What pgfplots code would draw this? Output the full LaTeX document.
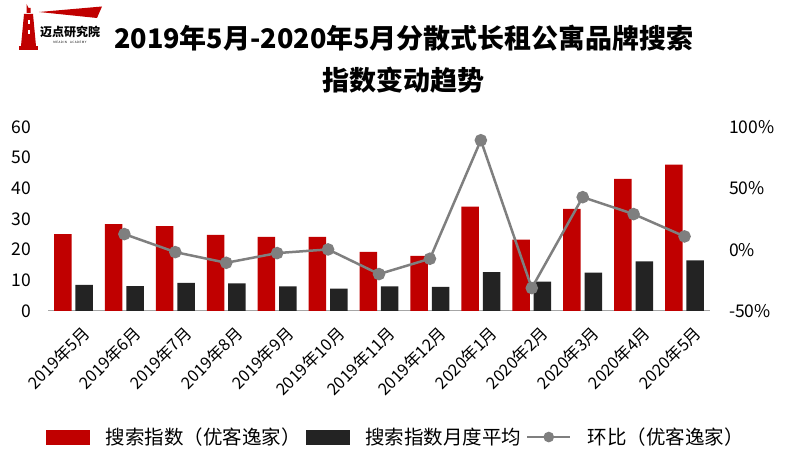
\documentclass[border=0pt]{standalone}
\usepackage{fontspec}
\setmainfont{Noto Sans CJK SC}
\usepackage{pgfplots}
\pgfplotsset{compat=1.18}
\definecolor{barred}{HTML}{C00000}
\definecolor{barblack}{HTML}{232323}
\definecolor{linegray}{HTML}{7F7F7F}
\definecolor{axgray}{HTML}{A6A6A6}
\begin{document}
\begin{tikzpicture}
\useasboundingbox (0pt,0pt) rectangle (800pt,463pt);
% ---- logo ----
\fill[barred] (26.5pt,459pt) -- (28.5pt,455pt) -- (30.5pt,455pt) -- (30.5pt,450pt) -- (26.5pt,450pt) -- cycle;
\fill[barred] (24pt,449pt) -- (33pt,449pt) -- (36pt,417pt) -- (21pt,417pt) -- cycle;
\fill[barred] (19pt,417pt) rectangle (38pt,413pt);
\fill[white] (27.5pt,443pt) rectangle (29.5pt,439pt);
\fill[white] (27.5pt,433pt) rectangle (29.5pt,429pt);
\fill[barred] (39pt,451pt) -- (102pt,456.5pt) -- (97pt,445pt) -- cycle;
\node[font=\fontsize{12}{12}\selectfont\bfseries, inner sep=0pt] at (70pt,431pt) {迈点研究院};
\node[font=\fontsize{3}{3}\selectfont, inner sep=0pt] at (70pt,421pt) {M\,E\,A\,D\,I\,N\quad A\,C\,A\,D\,E\,M\,Y};
% ---- title ----
\node[font=\fontsize{27}{27}\selectfont\bfseries, inner sep=0pt] at (404pt,425pt) {2019年5月-2020年5月分散式长租公寓品牌搜索};
\node[font=\fontsize{27}{27}\selectfont\bfseries, inner sep=0pt] at (403pt,383pt) {指数变动趋势};
% ---- bars ----
\begin{axis}[
  at={(48pt,152pt)}, anchor=south west, scale only axis,
  width=662pt, height=184pt,
  xmin=-0.5, xmax=12.5, ymin=0, ymax=60,
  axis x line*=bottom, axis y line*=left,
  y axis line style={draw=none},
  x axis line style={draw=axgray, line width=1pt},
  major tick length=0pt,
  xtick={0,...,12},
  xticklabels={2019年5月,2019年6月,2019年7月,2019年8月,2019年9月,2019年10月,2019年11月,2019年12月,2020年1月,2020年2月,2020年3月,2020年4月,2020年5月},
  xticklabel style={rotate=45, anchor=north east, inner sep=0pt, font=\fontsize{16.5}{16.5}\selectfont, xshift=-4pt, yshift=-15pt},
  ytick={0,10,20,30,40,50,60},
  yticklabels={0,10,20,30,40,50,60},
  yticklabel style={font=\fontsize{17.5}{17.5}\selectfont, inner sep=0pt, xshift=-17pt},
  clip=false,
]
\addplot[ybar, bar width=17.5pt, bar shift=-10.7pt, fill=barred, draw=none] coordinates {
(0,25.1) (1,28.3) (2,27.7) (3,24.8) (4,24.2) (5,24.2) (6,19.3) (7,18.0) (8,34.0) (9,23.3) (10,33.3) (11,43.1) (12,47.7)};
\addplot[ybar, bar width=17.5pt, bar shift=10.7pt, fill=barblack, draw=none] coordinates {
(0,8.5) (1,8.1) (2,9.2) (3,9.0) (4,8.0) (5,7.3) (6,8.0) (7,7.9) (8,12.7) (9,9.6) (10,12.5) (11,16.2) (12,16.5)};
\end{axis}
% ---- ratio line ----
\begin{axis}[
  at={(48pt,152pt)}, anchor=south west, scale only axis,
  width=662pt, height=184pt,
  xmin=-0.5, xmax=12.5, ymin=-50, ymax=100,
  axis x line=none, axis y line*=right,
  y axis line style={draw=none},
  major tick length=0pt,
  ytick={-50,0,50,100},
  yticklabels={-50\%,0\%,50\%,100\%},
  yticklabel style={font=\fontsize{17.5}{17.5}\selectfont, inner sep=0pt, xshift=19pt},
  clip=false,
  legend columns=3,
  legend style={at={(0.524,-0.685)}, anchor=center, draw=none, fill=none,
    font=\fontsize{19.5}{19.5}\selectfont, inner sep=0pt,
    /tikz/every even column/.append style={column sep=5pt},
    /tikz/every odd column/.append style={column sep=16pt},
    nodes={inner sep=0pt}},
]
\addlegendimage{legend image code/.code={\fill[barred] (0pt,-7pt) rectangle (43pt,7pt);}}
\addlegendentry{搜索指数（优客逸家）}
\addlegendimage{legend image code/.code={\fill[barblack] (0pt,-7pt) rectangle (43pt,7pt);}}
\addlegendentry{搜索指数月度平均}
\addplot[color=linegray, line width=2.5pt, mark=*, mark size=5pt, mark options={solid, fill=linegray, draw=linegray},
  legend image code/.code={\draw[linegray, line width=2.5pt] (0pt,0pt) -- (43pt,0pt); \fill[linegray] (21.5pt,0pt) circle (4pt);}]
 coordinates {(1,12.7) (2,-2.0) (3,-10.7) (4,-2.8) (5,0.2) (6,-19.9) (7,-7.4) (8,89.2) (9,-31.3) (10,42.8) (11,29.0) (12,10.8)};
\addlegendentry{环比（优客逸家）}
\end{axis}
\end{tikzpicture}
\end{document}
